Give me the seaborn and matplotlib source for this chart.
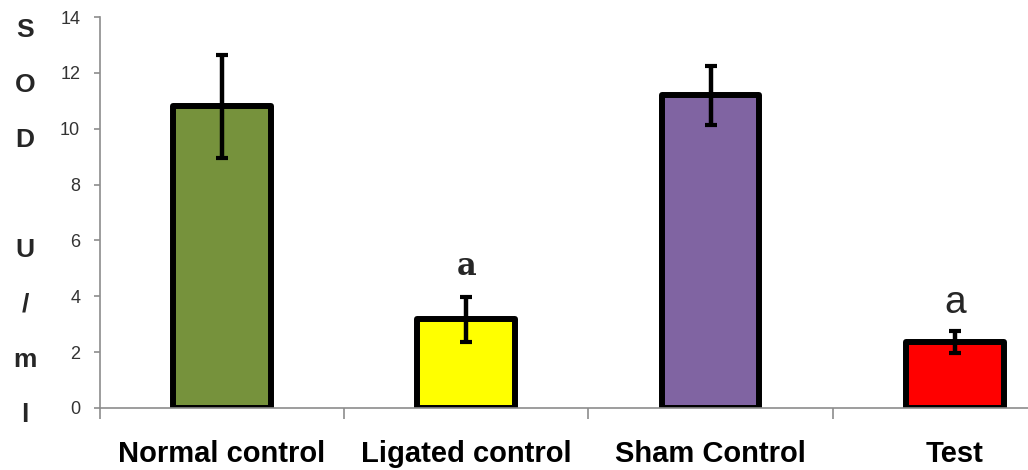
import numpy as np
import pandas as pd
import seaborn as sns
import matplotlib.pyplot as plt

# data
groups = ["Normal control", "Ligated control", "Sham Control", "Test"]
sod_mean = [10.8, 3.18, 11.2, 2.36]
sod_err = [1.85, 0.8, 1.05, 0.4]
bar_colors = ["#76923C", "#FFFF00", "#8064A2", "#FF0000"]
sig_marks = ["", "a", "", "a"]

df = pd.DataFrame({"group": groups, "sod": sod_mean})

sns.set_style("white")
plt.rcParams["font.family"] = ["Liberation Sans", "DejaVu Sans"]

fig = plt.figure(figsize=(10.28, 4.70), dpi=100)
ax = fig.add_axes([100 / 1028, 1 - 408 / 470, 1 - 100 / 1028, (408 - 17) / 470])

sns.barplot(data=df, x="group", y="sod", hue="group", palette=bar_colors,
            order=groups, hue_order=groups, legend=False, errorbar=None,
            width=0.40, edgecolor="black", linewidth=4.3, saturation=1, ax=ax)
for p in ax.patches:
    p.set_joinstyle("round")

x = np.arange(len(groups))
ax.errorbar(x, sod_mean, yerr=sod_err, fmt="none", ecolor="black",
            elinewidth=3.2, capsize=4.3, capthick=3.0, zorder=5)

# significance letters
ax.text(x[1], sod_mean[1] + sod_err[1] + 1.1, sig_marks[1], ha="center", va="center",
        fontsize=22, fontweight="bold", family=["DejaVu Serif"])
ax.text(x[3], sod_mean[3] + sod_err[3] + 1.0, sig_marks[3], ha="center", va="center",
        fontsize=28, family=["Liberation Sans", "DejaVu Sans"])

ax.set_xlim(-0.5, 3.3)
ax.set_ylim(0, 14)
ax.set_yticks(np.arange(0, 15, 2))
ax.set_xlabel("")
ax.set_ylabel("")

sns.despine(ax=ax, top=True, right=True)
for s in ["left", "bottom"]:
    ax.spines[s].set_color("#8c8c8c")
    ax.spines[s].set_linewidth(1.2)

ax.tick_params(axis="y", which="major", direction="out", length=4.3, width=1.2,
               color="#8c8c8c", pad=10, labelsize=13, labelcolor="#333333", left=True)
ax.tick_params(axis="x", which="major", length=0, pad=23, labelsize=21, labelcolor="black")
ax.set_xticks([-0.5, 0.5, 1.5, 2.5], minor=True)
ax.tick_params(axis="x", which="minor", direction="out", length=8, width=1.2,
               color="#8c8c8c", bottom=True)
for lab in ax.get_xticklabels():
    lab.set_fontweight("bold")

# stacked y-axis label
letters = ["S", "O", "D", "", "U", "/", "m", "l"]
for i, ch in enumerate(letters):
    if ch:
        fig.text(25 / 1028, 1 - (37 + 55 * i) / 470, ch, ha="center", va="baseline",
                 fontsize=19, fontweight="bold")

fig.savefig("out.png", dpi=100)
